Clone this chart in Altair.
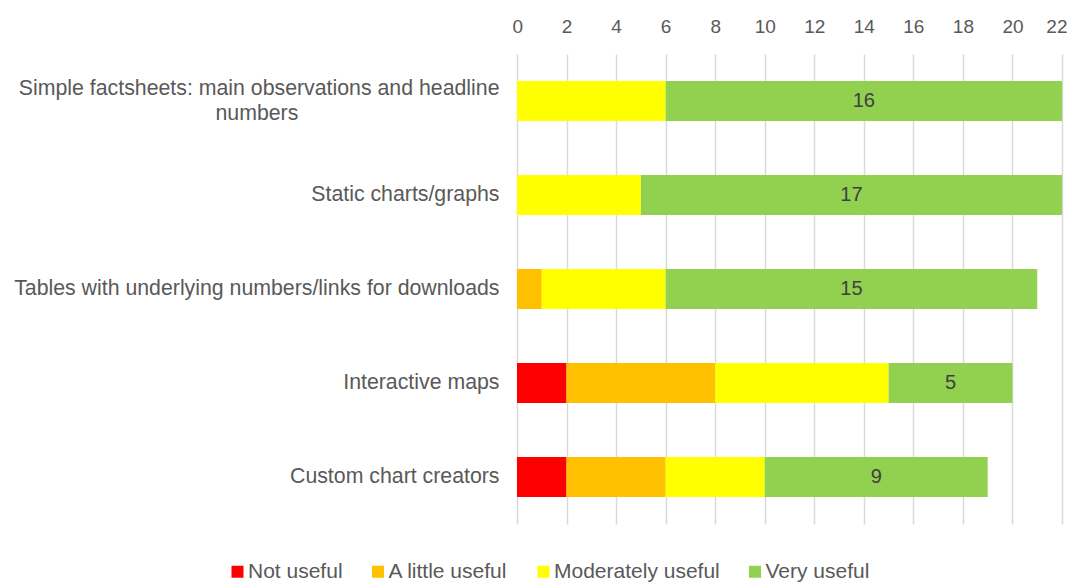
import altair as alt
import pandas as pd

categories = [
    "Simple factsheets: main observations and headline numbers",
    "Static charts/graphs",
    "Tables with underlying numbers/links for downloads",
    "Interactive maps",
    "Custom chart creators",
]
series = ["Not useful", "A little useful", "Moderately useful", "Very useful"]
not_useful = [0, 0, 0, 2, 2]
a_little_useful = [0, 0, 1, 6, 4]
moderately_useful = [6, 5, 5, 7, 4]
very_useful = [16, 17, 15, 5, 9]
colors = ["#FF0000", "#FFC000", "#FFFF00", "#92D050"]
x_ticks = list(range(0, 23, 2))

rows = []
for vals, s_idx in zip([not_useful, a_little_useful, moderately_useful, very_useful], range(4)):
    for c, v in zip(categories, vals):
        rows.append({"category": c, "series": series[s_idx], "order": s_idx, "value": v})
df = pd.DataFrame(rows)

FONT = "Liberation Sans"
pad = "\u00a0" * 34 + "\u200b"
label_expr = (
    "datum.value == '" + categories[0] + "' ? "
    "['Simple factsheets: main observations and headline', 'numbers" + pad + "'] : datum.value"
)

base = alt.Chart(df).transform_stack(
    stack="value", as_=["x0", "x1"], groupby=["category"], sort=[alt.SortField("order")]
).transform_calculate(mid="(datum.x0 + datum.x1) / 2")

y_enc = alt.Y(
    "category:N",
    sort=categories,
    title=None,
    scale=alt.Scale(paddingInner=0.574, paddingOuter=0.287),
    axis=alt.Axis(
        domain=False, ticks=False, labelPadding=18, labelLimit=700,
        labelFontSize=21.3, labelFont=FONT, labelColor="#595959",
        labelLineHeight=25, labelExpr=label_expr,
        labelOffset={"condition": {"test": "datum.value == '" + categories[0] + "'", "value": -12.5}, "value": 0},
    ),
)

bars = base.mark_bar().encode(
    x=alt.X(
        "x0:Q",
        title=None,
        scale=alt.Scale(domain=[0, 22], nice=False),
        axis=alt.Axis(
            orient="top", values=x_ticks, grid=True, gridColor="#D9D9D9", gridWidth=1.5,
            ticks=False, domain=False, labelFontSize=19, labelFont=FONT,
            labelColor="#595959", labelPadding=18, labelFlush=True, labelFlushOffset=5,
        ),
    ),
    x2="x1:Q",
    y=y_enc,
    color=alt.Color(
        "series:N",
        scale=alt.Scale(domain=series, range=colors),
        legend=alt.Legend(
            title=None, orient="none", direction="horizontal", legendX=-290, legendY=507,
            symbolType="square", symbolSize=144, symbolStrokeWidth=0,
            labelFontSize=21, labelFont=FONT, labelColor="#595959", labelLimit=400,
            labelOffset=0, columnPadding=24.5,
        ),
    ),
    order=alt.Order("order:Q"),
)

text = base.transform_filter(alt.datum.series == "Very useful").mark_text(
    fontSize=20, font=FONT, color="#404040"
).encode(
    x="mid:Q",
    y=alt.Y("category:N", sort=categories),
    text="value:Q",
)

chart = alt.layer(bars, text).properties(
    width=545,
    height=470,
    autosize=alt.AutoSizeParams(type="none"),
    padding={"left": 509, "top": 46, "right": 5, "bottom": 59},
).configure_view(stroke=None)

chart.save("out.html", embed_options={"renderer": "svg", "actions": False})
